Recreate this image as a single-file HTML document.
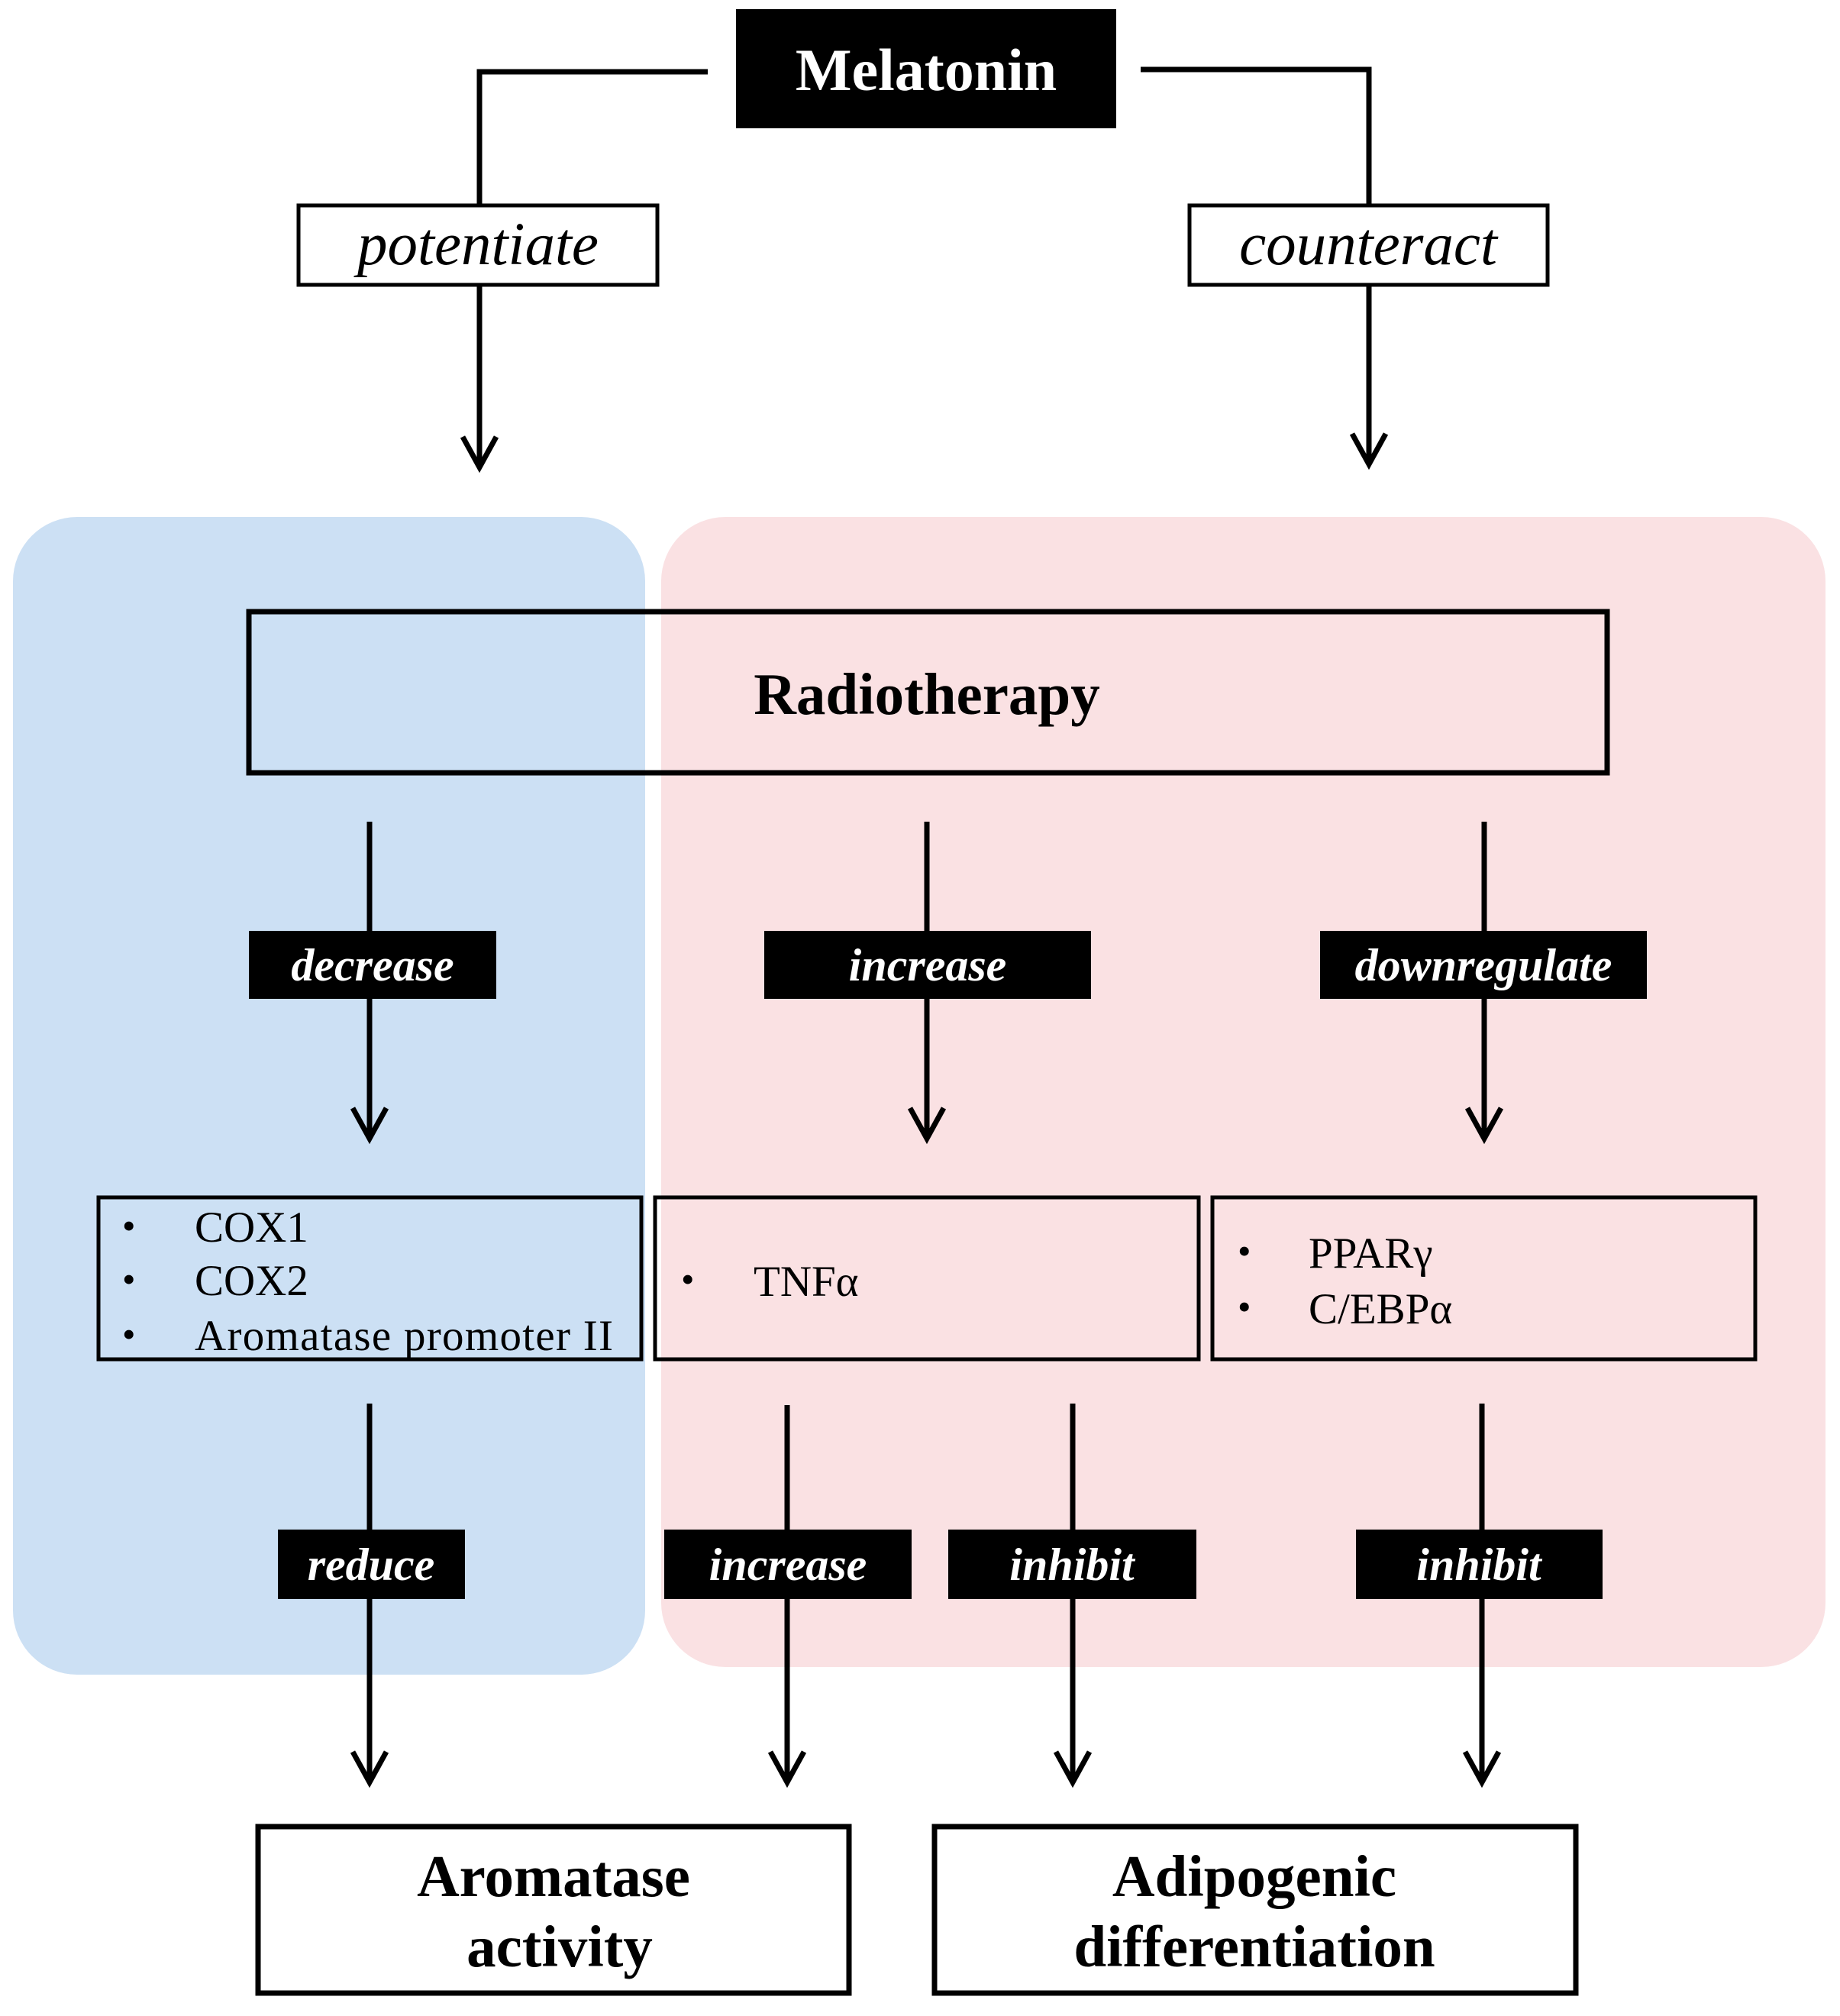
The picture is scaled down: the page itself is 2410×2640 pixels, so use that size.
<!DOCTYPE html>
<html><head><meta charset="utf-8"><style>html,body{margin:0;padding:0;background:#fff}</style></head>
<body>
<svg width="2410" height="2635" viewBox="0 0 2410 2635" xmlns="http://www.w3.org/2000/svg" font-family="Liberation Serif, serif">
<rect x="17" y="677" width="828" height="1516" rx="84" fill="#cce0f4"/>
<rect x="866" y="677" width="1525" height="1506" rx="84" fill="#fae1e3"/>

<g stroke="#000" stroke-width="7" fill="none">
<polyline points="927,94 628,94 628,269"/>
<polyline points="1494,91 1793,91 1793,269"/>
<line x1="628" y1="373" x2="628" y2="612"/>
<line x1="1793" y1="373" x2="1793" y2="608"/>
<polyline points="606,572 628,612 650,572"/>
<polyline points="1771,568 1793,608 1815,568"/>
<line x1="484" y1="1076" x2="484" y2="1491"/>
<line x1="1214" y1="1076" x2="1214" y2="1491"/>
<line x1="1944" y1="1076" x2="1944" y2="1491"/>
<polyline points="462,1451 484,1491 506,1451"/>
<polyline points="1192,1451 1214,1491 1236,1451"/>
<polyline points="1922,1451 1944,1491 1966,1451"/>
<line x1="484" y1="1838" x2="484" y2="2334"/>
<line x1="1031" y1="1840" x2="1031" y2="2334"/>
<line x1="1405" y1="1838" x2="1405" y2="2334"/>
<line x1="1941" y1="1838" x2="1941" y2="2334"/>
<polyline points="462,2294 484,2334 506,2294"/>
<polyline points="1009,2294 1031,2334 1053,2294"/>
<polyline points="1383,2294 1405,2334 1427,2294"/>
<polyline points="1919,2294 1941,2334 1963,2294"/>
</g>

<rect x="964" y="12" width="498" height="156" fill="#000"/>
<text x="1213" y="118" font-size="78" font-weight="bold" fill="#fff" text-anchor="middle">Melatonin</text>

<rect x="391" y="269" width="470" height="104" fill="#fff" stroke="#000" stroke-width="5"/>
<text x="626" y="346" font-size="79" font-style="italic" text-anchor="middle">potentiate</text>
<rect x="1558" y="269" width="469" height="104" fill="#fff" stroke="#000" stroke-width="5"/>
<text x="1792" y="346" font-size="79" font-style="italic" text-anchor="middle">counteract</text>

<rect x="326" y="801" width="1779" height="211" fill="none" stroke="#000" stroke-width="7"/>
<text x="1214" y="935" font-size="77" font-weight="bold" text-anchor="middle">Radiotherapy</text>

<g font-size="60" font-weight="bold" font-style="italic" fill="#fff" text-anchor="middle">
<rect x="326" y="1219" width="324" height="89" fill="#000"/>
<text x="488" y="1284">decrease</text>
<rect x="1001" y="1219" width="428" height="89" fill="#000"/>
<text x="1215" y="1284">increase</text>
<rect x="1729" y="1219" width="428" height="89" fill="#000"/>
<text x="1943" y="1284">downregulate</text>
<rect x="364" y="2003" width="245" height="91" fill="#000"/>
<text x="486" y="2069">reduce</text>
<rect x="870" y="2003" width="324" height="91" fill="#000"/>
<text x="1032" y="2069">increase</text>
<rect x="1242" y="2003" width="325" height="91" fill="#000"/>
<text x="1404" y="2069">inhibit</text>
<rect x="1776" y="2003" width="323" height="91" fill="#000"/>
<text x="1937" y="2069">inhibit</text>
</g>

<g fill="none" stroke="#000" stroke-width="5">
<rect x="129" y="1568" width="711" height="212"/>
<rect x="858" y="1568" width="712" height="212"/>
<rect x="1588" y="1568" width="711" height="212"/>
</g>
<g font-size="57">
<text x="160" y="1622" font-size="50">•</text><text x="255" y="1626">COX1</text>
<text x="160" y="1692" font-size="50">•</text><text x="255" y="1696">COX2</text>
<text x="160" y="1764" font-size="50">•</text><text x="255" y="1768" textLength="548" lengthAdjust="spacing">Aromatase  promoter  II</text>
<text x="892" y="1692" font-size="50">•</text><text x="987" y="1697">TNFα</text>
<text x="1621" y="1655" font-size="50">•</text><text x="1714" y="1660">PPARγ</text>
<text x="1621" y="1728" font-size="50">•</text><text x="1714" y="1733">C/EBPα</text>
</g>

<g fill="#fff" stroke="#000" stroke-width="7">
<rect x="338" y="2392" width="774" height="218"/>
<rect x="1224" y="2392" width="840" height="218"/>
</g>
<g font-size="77" font-weight="bold" text-anchor="middle">
<text x="725" y="2483">Aromatase</text>
<text x="733" y="2575">activity</text>
<text x="1643" y="2483">Adipogenic</text>
<text x="1643" y="2575">differentiation</text>
</g>
</svg>
</body></html>
